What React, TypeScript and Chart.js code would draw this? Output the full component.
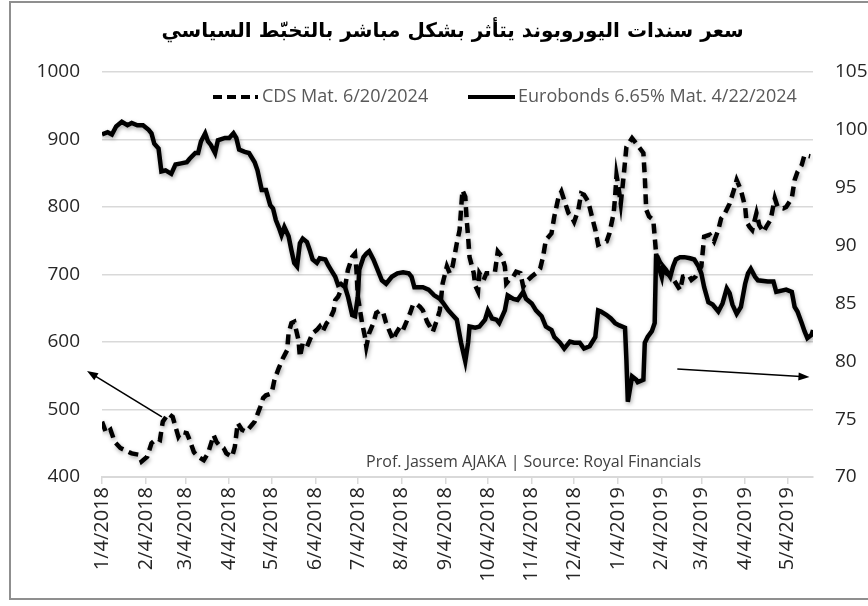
import React, { useEffect, useRef } from "react";
import { Chart, registerables } from "chart.js";

Chart.register(...registerables);

const chartTitle = "سعر سندات اليوروبوند يتأثر بشكل مباشر بالتخبّط السياسي";
const cdsLabel = "CDS Mat. 6/20/2024";
const bondLabel = "Eurobonds 6.65% Mat. 4/22/2024";
const sourceNote = "Prof. Jassem AJAKA | Source: Royal Financials";

// x axis: days since 1/4/2018
const monthTickDays = [0, 31, 59, 90, 120, 151, 181, 212, 243, 273, 304, 334, 365, 396, 424, 455, 485];
const monthTickLabels = [
  "1/4/2018", "2/4/2018", "3/4/2018", "4/4/2018", "5/4/2018", "6/4/2018", "7/4/2018", "8/4/2018",
  "9/4/2018", "10/4/2018", "11/4/2018", "12/4/2018", "1/4/2019", "2/4/2019", "3/4/2019", "4/4/2019", "5/4/2019",
];
const lastDay = 503;

const cdsTicks = [400, 500, 600, 700, 800, 900, 1000];
const bondTicks = [70, 75, 80, 85, 90, 95, 100, 105];

// CDS (left axis)
const cdsDays = [
  0, 3, 6, 9, 13, 16, 21, 26, 28, 32, 35, 39, 41, 43, 47, 50, 54, 56, 60, 62, 65, 68, 72, 75, 79, 81, 83, 86, 88, 92,
  94, 96, 99, 102, 106, 108, 112, 114, 116, 120, 122, 125, 128, 131, 132, 134, 136, 139, 140, 142, 145, 147, 149, 152,
  154, 156, 159, 161, 164, 165, 167, 169, 172, 174, 177, 179, 180, 181, 184, 186, 187, 189, 192, 194, 197, 199, 201,
  204, 206, 208, 211, 213, 215, 218, 220, 222, 225, 227, 230, 232, 234, 237, 239, 241, 244, 246, 248, 251, 253, 254,
  255, 257, 258, 259, 260, 263, 264, 266, 267, 270, 272, 274, 278, 280, 283, 285, 286, 288, 291, 293, 296, 298, 300,
  304, 307, 310, 312, 314, 318, 320, 323, 325, 327, 330, 332, 334, 337, 339, 341, 344, 346, 349, 351, 353, 357, 359,
  362, 363, 364, 365, 367, 369, 371, 375, 378, 383, 384, 385, 387, 390, 391, 392, 396, 399, 403, 406, 409, 411, 415,
  417, 420, 424, 426, 430, 433, 436, 438, 440, 444, 447, 449, 452, 455, 456, 458, 460, 463, 465, 468, 470, 473, 476,
  478, 482, 484, 488, 490, 492, 495, 497, 501,
];
const cdsValues = [
  482, 465, 470, 452, 443, 440, 435, 433, 423, 430, 450, 457, 455, 482, 494, 489, 460, 467, 465, 455, 437, 430, 425,
  435, 462, 452, 447, 443, 435, 430, 445, 480, 470, 467, 477, 482, 504, 517, 521, 524, 544, 561, 576, 588, 613, 628,
  630, 603, 578, 598, 593, 603, 613, 618, 623, 615, 628, 633, 647, 662, 667, 677, 682, 707, 726, 731, 707, 667, 628,
  608, 593, 613, 628, 643, 647, 643, 628, 613, 603, 613, 623, 618, 628, 643, 655, 657, 652, 647, 630, 623, 615, 633,
  647, 687, 712, 702, 712, 746, 766, 796, 825, 815, 781, 756, 726, 702, 684, 675, 702, 692, 702, 702, 704, 734, 726,
  712, 687, 692, 697, 704, 702, 682, 689, 697, 702, 709, 726, 751, 761, 786, 815, 823, 810, 791, 786, 778, 796, 820,
  818, 808, 791, 766, 744, 746, 749, 761, 791, 815, 847, 835, 805, 845, 889, 902, 894, 880, 845, 796, 786, 781, 756,
  731, 712, 702, 697, 687, 677, 697, 699, 692, 697, 712, 756, 759, 749, 766, 783, 788, 805, 825, 840, 825, 800, 778,
  771, 766, 791, 773, 763, 771, 781, 813, 800, 798, 800, 813, 840, 852, 862, 877, 875,
];

// Eurobonds price (right axis)
const bondDays = [
  0, 4, 7, 10, 14, 18, 21, 25, 29, 33, 35, 37, 40, 41, 42, 45, 49, 52, 56, 60, 62, 66, 68, 70, 73, 75, 77, 80, 82, 87,
  90, 93, 95, 97, 101, 104, 108, 110, 113, 116, 119, 121, 123, 125, 127, 129, 132, 134, 136, 138, 140, 142, 145, 147,
  149, 152, 154, 158, 160, 162, 165, 167, 169, 172, 174, 177, 179, 181, 182, 185, 187, 189, 192, 194, 198, 201, 205,
  209, 213, 217, 219, 221, 227, 231, 235, 239, 241, 245, 248, 251, 254, 257, 259, 260, 264, 267, 271, 273, 276, 279,
  281, 285, 287, 291, 294, 298, 300, 304, 307, 311, 314, 318, 320, 324, 327, 331, 334, 338, 341, 345, 349, 351, 353,
  357, 360, 363, 366, 370, 371, 372, 375, 378, 379, 383, 384, 386, 389, 391, 392, 393, 396, 397, 399, 402, 404, 406,
  409, 412, 416, 419, 422, 424, 426, 429, 432, 436, 439, 442, 444, 446, 449, 452, 455, 457, 459, 462, 464, 471, 475,
  477, 484, 488, 490, 492, 495, 497, 499, 502, 503,
];
const bondValues = [
  99.6, 99.8, 99.6, 100.3, 100.7, 100.4, 100.6, 100.4, 100.4, 100.0, 99.7, 98.8, 98.4, 97.4, 96.4, 96.5, 96.2, 97.0,
  97.1, 97.2, 97.5, 98.0, 98.0, 99.0, 99.7, 99.0, 98.7, 98.0, 99.1, 99.3, 99.3, 99.7, 99.3, 98.3, 98.1, 98.0, 97.2,
  96.5, 94.8, 94.8, 93.5, 93.2, 92.2, 91.6, 90.9, 91.6, 90.8, 89.6, 88.5, 88.2, 90.2, 90.6, 90.3, 89.6, 88.8, 88.5,
  88.9, 88.8, 88.3, 87.9, 87.3, 86.6, 86.7, 86.4, 85.6, 84.0, 83.9, 85.6, 87.9, 89.0, 89.3, 89.5, 88.8, 88.2, 87.0,
  86.7, 87.3, 87.6, 87.7, 87.6, 87.3, 86.4, 86.4, 86.2, 85.7, 85.4, 85.1, 84.4, 84.0, 83.6, 81.6, 80.0, 81.6, 83.0,
  82.9, 83.0, 83.6, 84.4, 83.7, 83.6, 83.3, 84.4, 85.7, 85.4, 85.3, 86.0, 85.4, 85.0, 84.4, 83.9, 83.0, 82.7, 82.1,
  81.6, 81.1, 81.7, 81.6, 81.6, 81.1, 81.3, 82.1, 84.4, 84.3, 84.0, 83.7, 83.3, 83.1, 82.9, 80.1, 76.5, 78.7, 78.4,
  78.2, 78.4, 81.6, 82.1, 82.6, 83.3, 89.3, 88.5, 87.3, 88.2, 87.9, 87.3, 88.2, 88.8, 89.0, 89.0, 88.9, 88.8, 88.2,
  87.6, 86.4, 85.1, 84.9, 84.3, 85.0, 86.3, 85.9, 84.9, 84.1, 84.7, 86.7, 87.6, 88.0, 87.3, 87.0, 86.9, 86.9, 86.0,
  86.2, 86.0, 84.7, 84.3, 83.3, 82.6, 82.0, 82.3, 82.7,
];

// annotation arrows, in data units (day, CDS value)
const arrowLeft = { fromDay: 42.4, fromCds: 489, toDay: -10.6, toCds: 557 };
const arrowRight = { fromDay: 407, fromCds: 560, toDay: 500.5, toCds: 548 };

const tickFont = { family: "'Open Sans', sans-serif", size: 19 };

function drawArrow(ctx: CanvasRenderingContext2D, x1: number, y1: number, x2: number, y2: number) {
  const ang = Math.atan2(y2 - y1, x2 - x1);
  const head = 11;
  const half = 4;
  ctx.save();
  ctx.strokeStyle = "#000";
  ctx.fillStyle = "#000";
  ctx.lineWidth = 1.6;
  ctx.beginPath();
  ctx.moveTo(x1, y1);
  ctx.lineTo(x2 - Math.cos(ang) * head * 0.8, y2 - Math.sin(ang) * head * 0.8);
  ctx.stroke();
  ctx.beginPath();
  ctx.moveTo(x2, y2);
  ctx.lineTo(x2 - Math.cos(ang) * head - Math.sin(ang) * half, y2 - Math.sin(ang) * head + Math.cos(ang) * half);
  ctx.lineTo(x2 - Math.cos(ang) * head + Math.sin(ang) * half, y2 - Math.sin(ang) * head - Math.cos(ang) * half);
  ctx.closePath();
  ctx.fill();
  ctx.restore();
}

export default function App() {
  const ref = useRef<HTMLCanvasElement>(null);

  useEffect(() => {
    const canvas = ref.current;
    if (!canvas) return;

    const cdsData = cdsDays.map((d, i) => ({ x: d, y: cdsValues[i] }));
    const bondData = bondDays.map((d, i) => ({ x: d, y: bondValues[i] }));

    const decor = {
      id: "decor",
      beforeDraw(chart: any) {
        const ctx = chart.ctx;
        ctx.save();
        ctx.fillStyle = "#fff";
        ctx.fillRect(0, 0, chart.width, chart.height);
        ctx.restore();
      },
      beforeDatasetsDraw(chart: any) {
        const ctx = chart.ctx;
        ctx.save();
        ctx.shadowColor = "rgba(0,0,0,0.35)";
        ctx.shadowBlur = 4;
        ctx.shadowOffsetX = 1;
        ctx.shadowOffsetY = 2;
      },
      afterDatasetsDraw(chart: any) {
        chart.ctx.restore();
      },
      afterDraw(chart: any) {
        const ctx = chart.ctx as CanvasRenderingContext2D;
        const xs = chart.scales.x;
        const ys = chart.scales.y;
        const area = chart.chartArea;
        ctx.save();
        // frame
        ctx.strokeStyle = "#8f8f8f";
        ctx.lineWidth = 2;
        ctx.strokeRect(10, 2, 900, 597);

        // title
        ctx.fillStyle = "#000";
        ctx.font = "bold 20px 'DejaVu Sans', sans-serif";
        ctx.textAlign = "center";
        ctx.textBaseline = "middle";
        ctx.fillText(chartTitle, (area.left + area.right) / 2 - 5, 32);

        // legend
        const ly = area.top + 25;
        ctx.font = "18px 'Open Sans', sans-serif";
        ctx.textAlign = "left";
        ctx.fillStyle = "#595959";
        ctx.strokeStyle = "#000";
        ctx.lineWidth = 4;
        ctx.setLineDash([9, 5]);
        ctx.beginPath();
        ctx.moveTo(area.left + 111, ly);
        ctx.lineTo(area.left + 156, ly);
        ctx.stroke();
        ctx.setLineDash([]);
        ctx.fillText(cdsLabel, area.left + 160, ly);
        ctx.beginPath();
        ctx.moveTo(area.left + 366, ly);
        ctx.lineTo(area.left + 413, ly);
        ctx.stroke();
        ctx.fillText(bondLabel, area.left + 416, ly);

        // source note
        ctx.font = "16px 'Open Sans', sans-serif";
        ctx.fillStyle = "#404040";
        ctx.textAlign = "right";
        ctx.fillText(sourceNote, area.left + 599, area.bottom - 15);

        // arrows
        drawArrow(
          ctx,
          xs.getPixelForValue(arrowLeft.fromDay), ys.getPixelForValue(arrowLeft.fromCds),
          xs.getPixelForValue(arrowLeft.toDay), ys.getPixelForValue(arrowLeft.toCds)
        );
        drawArrow(
          ctx,
          xs.getPixelForValue(arrowRight.fromDay), ys.getPixelForValue(arrowRight.fromCds),
          xs.getPixelForValue(arrowRight.toDay), ys.getPixelForValue(arrowRight.toCds)
        );
        ctx.restore();
      },
    };

    const chart = new Chart(canvas, {
      type: "line",
      data: {
        datasets: [
          {
            label: cdsLabel,
            data: cdsData,
            yAxisID: "y",
            borderColor: "#000",
            borderWidth: 4.5,
            borderDash: [10, 6],
            pointRadius: 0,
            tension: 0,
            fill: false,
          },
          {
            label: bondLabel,
            data: bondData,
            yAxisID: "y1",
            borderColor: "#000",
            borderWidth: 4.5,
            pointRadius: 0,
            tension: 0,
            fill: false,
          },
        ],
      },
      plugins: [decor],
      options: {
        responsive: false,
        animation: false,
        layout: { padding: { top: 72, left: 0, right: 0, bottom: 0 } },
        plugins: {
          legend: { display: false },
          title: { display: false },
          tooltip: { enabled: false },
        },
        scales: {
          x: {
            type: "linear",
            min: 0,
            max: lastDay,
            afterBuildTicks: (s: any) => {
              s.ticks = monthTickDays.map((v) => ({ value: v }));
            },
            afterFit: (s: any) => {
              s.height = 129;
            },
            grid: {
              display: true,
              drawOnChartArea: false,
              drawTicks: true,
              tickLength: 7,
              color: "#d9d9d9",
              lineWidth: 1.5,
            },
            border: { display: true, color: "#d9d9d9", width: 2 },
            ticks: {
              autoSkip: false,
              maxRotation: 90,
              minRotation: 90,
              padding: 3,
              color: "#262626",
              font: { family: "'Open Sans', sans-serif", size: 20 },
              callback: (v: any) => {
                const i = monthTickDays.indexOf(Number(v));
                return i >= 0 ? monthTickLabels[i] : "";
              },
            },
          },
          y: {
            type: "linear",
            position: "left",
            min: cdsTicks[0],
            max: cdsTicks[cdsTicks.length - 1],
            afterBuildTicks: (s: any) => {
              s.ticks = cdsTicks.map((v) => ({ value: v }));
            },
            afterFit: (s: any) => {
              s.width = 102;
            },
            grid: { color: "#d9d9d9", lineWidth: 1.5, drawTicks: false },
            border: { display: false },
            ticks: { padding: 22, color: "#262626", font: tickFont, callback: (v: any) => String(v) },
          },
          y1: {
            type: "linear",
            position: "right",
            min: bondTicks[0],
            max: bondTicks[bondTicks.length - 1],
            afterBuildTicks: (s: any) => {
              s.ticks = bondTicks.map((v) => ({ value: v }));
            },
            afterFit: (s: any) => {
              s.width = 55;
            },
            grid: { display: false, drawTicks: false },
            border: { display: false },
            ticks: { padding: 22, color: "#262626", font: tickFont, callback: (v: any) => String(v) },
          },
        },
      },
    } as any);

    return () => {
      chart.destroy();
    };
  }, []);

  return (
    <div style={{ position: "absolute", left: 0, top: 0, width: 868, height: 606, background: "#fff", overflow: "hidden" }}>
      <canvas ref={ref} width={868} height={606} style={{ display: "block", width: 868, height: 606 }} />
    </div>
  );
}
